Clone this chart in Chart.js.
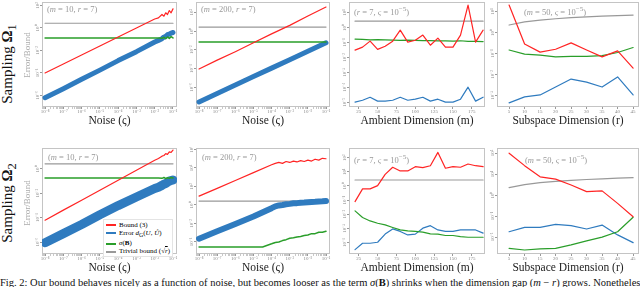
<!DOCTYPE html>
<html>
<head>
<meta charset="utf-8">
<script src="https://cdn.jsdelivr.net/npm/chart.js@4.4.1/dist/chart.umd.min.js"></script>
<style>
  body { margin: 0; background: #fff; }
  #fig { position: relative; width: 640px; height: 287px; overflow: hidden; font-family: 'Liberation Serif', 'Times New Roman', serif; }
  canvas { position: absolute; }
  .rowlab { position: absolute; font-size: 15px; color: #111; white-space: nowrap; transform: translate(-50%, -50%) rotate(-90deg); }
  .ylab { position: absolute; font-size: 9px; color: #aaa; white-space: nowrap; transform: translate(-50%, -50%) rotate(-90deg); }
  .note { position: absolute; font-size: 8.5px; color: #999; white-space: nowrap; line-height: 10px; }
  #legend { position: absolute; left: 103px; top: 219px; font-size: 7px; line-height: 8px; background: #fff; border: 1px solid #e4e4e4; padding: 1px 2px; white-space: nowrap; }
  #legend .sw { display: inline-block; width: 10px; border-top: 2px solid; vertical-align: middle; margin-right: 3px; }
  #caption { position: absolute; left: 0; top: 277px; font-size: 10.5px; line-height: 12px; white-space: nowrap; color: #111; }
</style>
</head>
<body>
<div id="fig">
  <canvas id="p1"></canvas><canvas id="p2"></canvas><canvas id="p3"></canvas><canvas id="p4"></canvas>
  <canvas id="p5"></canvas><canvas id="p6"></canvas><canvas id="p7"></canvas><canvas id="p8"></canvas>

  <div class="rowlab" style="left:9px;top:64px">Sampling <b>Ω</b><sub>1</sub></div>
  <div class="rowlab" style="left:9px;top:203px">Sampling <b>Ω</b><sub>2</sub></div>
  <div class="ylab" style="left:27px;top:55px">Error/Bound</div>
  <div class="ylab" style="left:27px;top:203px">Error/Bound</div>

  <div class="note" style="left:47px;top:4px">(<i>m</i> = 10, <i>r</i> = 7)</div>
  <div class="note" style="left:201px;top:4px">(<i>m</i> = 200, <i>r</i> = 7)</div>
  <div class="note" style="left:354px;top:4px">(<i>r</i> = 7, <i>ς</i> = 10<sup>−5</sup>)</div>
  <div class="note" style="left:524px;top:4px">(<i>m</i> = 50, <i>ς</i> = 10<sup>−5</sup>)</div>
  <div class="note" style="left:48px;top:152px">(<i>m</i> = 10, <i>r</i> = 7)</div>
  <div class="note" style="left:202px;top:152px">(<i>m</i> = 200, <i>r</i> = 7)</div>
  <div class="note" style="left:354px;top:152px">(<i>r</i> = 7, <i>ς</i> = 10<sup>−5</sup>)</div>
  <div class="note" style="left:525px;top:152px">(<i>m</i> = 50, <i>ς</i> = 10<sup>−5</sup>)</div>

  <div id="legend"></div>
  <div id="caption">Fig. 2: Our bound behaves nicely as a function of noise, but becomes looser as the term <i>σ</i>(<b>B</b>) shrinks when the dimension gap (<i>m</i> − <i>r</i>) grows. Nonetheless, it remains</div>
</div>
<script>
// tick labels
const noiseTicks = [1e-8, 1e-7, 1e-6, 1e-5, 1e-4, 1e-3, 1e-2, 1e-1];
const mTicks = [25, 50, 75, 100, 125, 150, 175];
const rTicks = [5, 10, 15, 20, 25, 30, 35, 40, 45];

// noise sweeps (x = noise)
const noiseA = [1e-8, 1e-7, 1e-6, 1e-5, 1e-4, 1e-3, 1e-2, 1.6e-2, 2.5e-2, 3.2e-2, 4.0e-2, 5.0e-2, 6.3e-2, 7.9e-2, 1e-1];
const noiseDec = [1e-8, 1e-7, 1e-6, 1e-5, 1e-4, 1e-3, 1e-2, 1e-1];
const noiseEnds = [1e-8, 1e-1];
const noiseB = [1e-8, 1e-7, 1e-6, 1e-5, 1e-4, 1.6e-4, 2.5e-4, 4.0e-4, 6.3e-4, 1e-3, 1.6e-3, 2.5e-3, 4.0e-3, 6.3e-3, 1e-2, 1.6e-2, 2.5e-2, 4.0e-2, 6.3e-2, 1e-1];
const noiseBsig = [1e-8, 3.2e-5, 1e-4, 1.6e-4, 2.5e-4, 4.0e-4, 6.3e-4, 1e-3, 1.6e-3, 2.5e-3, 4.0e-3, 6.3e-3, 1e-2, 1.6e-2, 2.5e-2, 4.0e-2, 6.3e-2, 1e-1];
const trivial7 = [2.65, 2.65];

// Sampling Omega 1, m = 10
const boundO1m10 = [1.0e-4, 6.3e-4, 4.0e-3, 2.5e-2, 0.16, 1.0, 6.3, 7.9, 15.8, 11.2, 22.4, 15.8, 35.5, 22.4, 50];
const errO1m10 = [6.3e-7, 4.0e-6, 2.8e-5, 1.8e-4, 1.26e-3, 7.9e-3, 5.6e-2, 7.9e-2, 0.112, 0.158, 0.178, 0.251, 0.282, 0.355, 0.398];
const sigO1m10 = [0.13, 0.13, 0.13, 0.13, 0.13, 0.13, 0.13, 0.13, 0.12, 0.15, 0.11, 0.16, 0.12, 0.17, 0.13];
// Sampling Omega 1, m = 200
const boundO1m200 = [8.9e-5, 7.9e-4, 6.3e-3, 5.6e-2, 0.50, 3.98, 39.8, 355];
const errO1m200 = [2.8e-8, 2.24e-7, 1.78e-6, 1.41e-5, 1.12e-4, 8.9e-4, 7.1e-3, 5.6e-2];
const sigO1m200 = [0.068, 0.068];
// Sampling Omega 2, m = 10
const boundO2m10 = [6.3e-5, 4.2e-4, 2.75e-3, 1.8e-2, 0.12, 0.79, 5.2, 7.1, 11.2, 12.6, 17.8, 15.8, 25.1, 22.4, 35.5];
const errO2m10 = [8.9e-7, 5.0e-6, 2.8e-5, 1.78e-4, 1.0e-3, 5.0e-3, 2.5e-2, 3.2e-2, 4.5e-2, 5.6e-2, 6.3e-2, 7.9e-2, 0.1, 0.112, 0.126];
const sigO2m10 = [0.18, 0.18, 0.18, 0.18, 0.18, 0.18, 0.18, 0.18, 0.17, 0.2, 0.16, 0.19, 0.17, 0.2, 0.18];
// Sampling Omega 2, m = 200
const boundO2m200 = [9.1, 63, 447, 3.16e3, 2.24e4, 3.16e4, 3.98e4, 3.16e4, 5.0e4, 3.98e4, 5.6e4, 4.5e4, 6.3e4, 5.0e4, 7.1e4, 5.6e4, 8.9e4, 7.1e4, 1.12e5, 1.0e5];
const errO2m200 = [2.24e-4, 1.41e-3, 8.9e-3, 5.6e-2, 0.45, 0.71, 0.89, 1.0, 1.2, 1.32, 1.51, 1.58, 1.78, 1.86, 2.0, 2.14, 2.24, 2.4, 2.51, 2.69];
const sigO2m200 = [2.9e-5, 2.9e-5, 6.3e-5, 8.9e-5, 1.0e-4, 1.41e-4, 1.78e-4, 2.5e-4, 2.8e-4, 3.5e-4, 4.0e-4, 5.0e-4, 5.6e-4, 7.9e-4, 7.9e-4, 1.12e-3, 1.12e-3, 1.41e-3];

// ambient dimension sweeps (r = 7, noise 1e-5)
const mVals = [20, 30, 40, 50, 60, 70, 80, 90, 100, 110, 120, 130, 140, 150, 160, 170, 180, 190];
const trivialM = [2.65, 2.65];
const mEnds = [20, 190];
const boundO1m = [0.031, 0.049, 0.123, 0.035, 0.056, 0.123, 0.66, 0.105, 0.141, 0.31, 0.066, 0.195, 0.049, 0.049, 0.31, 30.9, 0.105, 0.66];
const errO1m = [1.05e-5, 1.41e-5, 2.24e-5, 1.23e-5, 1.23e-5, 1.41e-5, 2.24e-5, 1.41e-5, 1.66e-5, 2.24e-5, 1.23e-5, 1.66e-5, 1.05e-5, 1.05e-5, 1.66e-5, 1.05e-4, 1.23e-5, 2.24e-5];
const sigO1m = [0.17, 0.16, 0.15, 0.155, 0.15, 0.145, 0.14, 0.145, 0.14, 0.135, 0.135, 0.13, 0.13, 0.125, 0.13, 0.12, 0.12, 0.115];
const boundO2m = [0.079, 0.62, 0.62, 1.05, 6.6, 20.9, 11.5, 11.5, 22.9, 19.5, 26.9, 234, 17.8, 22.9, 20.9, 35.5, 26.9, 22.9];
const errO2m = [3.2e-5, 9.1e-5, 9.1e-5, 1.07e-4, 4.0e-4, 9.3e-4, 6.2e-4, 3.5e-4, 4.0e-4, 1.05e-3, 1.58e-3, 7.9e-4, 6.2e-4, 6.2e-4, 7.9e-4, 7.9e-4, 7.9e-4, 4.7e-4];
const sigO2m = [0.0174, 5.9e-3, 3.4e-3, 2.34e-3, 1.78e-3, 1.17e-3, 7.9e-4, 6.8e-4, 6.2e-4, 5.5e-4, 4.2e-4, 4.0e-4, 3.2e-4, 3.2e-4, 2.7e-4, 2.4e-4, 2.4e-4, 2.4e-4];

// subspace dimension sweeps (m = 50, noise 1e-5)
const rVals = [5, 10, 15, 20, 25, 30, 35, 40, 45];
const trivialR = [2.24, 3.16, 3.87, 4.47, 5.0, 5.48, 5.92, 6.32, 6.71];
const boundO1r = [20, 0.28, 0.115, 0.158, 0.316, 0.145, 0.068, 0.132, 0.02];
const errO1r = [4.4e-4, 8.5e-4, 1.05e-3, 2.5e-3, 6.0e-3, 4.3e-3, 2.5e-3, 7.6e-3, 1.05e-3];
const sigO1r = [0.145, 0.093, 0.083, 0.068, 0.072, 0.072, 0.079, 0.11, 0.19];
const boundO2r = [98, 25.1, 7.4, 5.75, 3.0, 1.45, 1.58, 0.40, 0.093];
const errO2r = [1.78e-2, 2.9e-2, 2.9e-2, 4.0e-2, 3.5e-2, 2.4e-2, 3.7e-2, 1.26e-2, 5.4e-3];
const sigO2r = [2.9e-3, 2.4e-3, 2.7e-3, 2.9e-3, 4.2e-3, 6.5e-3, 9.8e-3, 1.78e-2, 8.7e-2];

const FONT = "'Liberation Serif', 'Times New Roman', serif";
const RED = '#ff2424', BLUE = '#2f7bbf', GREEN = '#2a9e2a', GRAY = '#999999';
const YW = 12, XH = 22;

const legendItems = [
  ['Bound (3)', RED],
  ['Error <i>d</i><sub>G</sub>(<i>U</i>, <i>Û</i>)', BLUE],
  ['<i>σ</i>(<b>B</b>)', GREEN],
  ['Trivial bound (√<span style="text-decoration:overline"><i>r</i></span>)', GRAY]
];
document.getElementById('legend').innerHTML = legendItems
  .map(([t, c]) => '<div><span class="sw" style="border-color:' + c + '"></span>' + t + '</div>').join('');

const supMap = { '-': '⁻', '0': '⁰', '1': '¹', '2': '²', '3': '³', '4': '⁴', '5': '⁵', '6': '⁶', '7': '⁷', '8': '⁸', '9': '⁹' };
function powLabel(v) {
  const e = Math.log10(v);
  if (Math.abs(e - Math.round(e)) > 1e-6) return '';
  return '10' + String(Math.round(e)).split('').map(c => supMap[c]).join('');
}

// minor ticks between the decades of the noise axis
const noiseMinor = [];
[-9, -8, -7, -6, -5, -4, -3, -2, -1].forEach(e => {
  [2, 3, 4, 5, 6, 7, 8, 9].forEach(k => noiseMinor.push(k * Math.pow(10, e)));
});

const noiseAxis = { type: 'logarithmic', min: 6.8e-9, max: 0.166, ticks: noiseTicks, minor: noiseMinor, title: 'Noise (ς)' };
const mAxis = { type: 'linear', min: 12, max: 192.5, ticks: mTicks, minor: [], title: 'Ambient Dimension (m)' };
const rAxis = { type: 'linear', min: 1.1, max: 46.9, ticks: rTicks, minor: [], title: 'Subspace Dimension (r)' };

const frame = {
  id: 'frame',
  beforeDatasetsDraw(chart) {
    const a = chart.chartArea, ctx = chart.ctx;
    ctx.save();
    ctx.strokeStyle = '#c4c4c4';
    ctx.lineWidth = 1;
    ctx.strokeRect(a.left + 0.5, a.top + 0.5, a.width - 1, a.height - 1);
    ctx.restore();
  }
};

function line(xs, ys, color, width, order) {
  return {
    data: xs.map((x, i) => ({ x: x, y: ys[i] })),
    showLine: true, borderColor: color, backgroundColor: color,
    borderWidth: width, pointRadius: 0, order: order,
    borderJoinStyle: 'round', borderCapStyle: 'round'
  };
}

function panel(id, l, w, t, h, xa, ya, datasets) {
  const cv = document.getElementById(id);
  cv.width = YW + w + 1;
  cv.height = 1 + h + XH;
  cv.style.left = (l - YW) + 'px';
  cv.style.top = (t - 1) + 'px';
  const isLog = xa.type === 'logarithmic';
  new Chart(cv, {
    type: 'scatter',
    data: { datasets: datasets },
    options: {
      responsive: false,
      animation: false,
      events: [],
      layout: { padding: { top: 1, right: 1, left: 0, bottom: 0 } },
      plugins: { legend: { display: false }, tooltip: { enabled: false } },
      scales: {
        x: {
          type: xa.type, min: xa.min, max: xa.max,
          afterBuildTicks: s => { s.ticks = xa.ticks.concat(xa.minor.filter(v => v > xa.min && v < xa.max)).sort((a, b) => a - b).map(v => ({ value: v })); },
          afterFit: s => { s.height = XH; s.paddingLeft = 0; s.paddingRight = 0; },
          grid: { drawOnChartArea: false, tickLength: 2, tickColor: c => (xa.ticks.includes(c.tick.value) ? '#999' : '#c8c8c8') },
          border: { display: false },
          ticks: {
            font: { size: 5, family: FONT }, color: '#888', padding: 0, maxRotation: 0, autoSkip: false,
            callback: v => (xa.ticks.includes(v) ? (isLog ? powLabel(v) : String(v)) : '')
          },
          title: { display: true, text: xa.title, font: { size: 11.5, family: FONT }, color: '#222', padding: { top: 0, bottom: 1 } }
        },
        y: {
          type: 'logarithmic', min: ya.min, max: ya.max,
          afterBuildTicks: s => { s.ticks = ya.ticks.map(v => ({ value: v })); },
          afterFit: s => { s.width = YW; s.paddingTop = 0; s.paddingBottom = 0; },
          grid: { drawOnChartArea: false, tickLength: 2, tickColor: '#999' },
          border: { display: false },
          ticks: { font: { size: 5, family: FONT }, color: '#888', minRotation: 90, maxRotation: 90, crossAlign: 'center', padding: -2, autoSkip: false, callback: v => powLabel(v) }
        }
      }
    },
    plugins: [frame]
  });
}

const TOP = 2, TOP_H = 105, BOT = 148, BOT_H = 106;
const C1 = [42, 135], C2 = [196, 134], C3 = [349, 136], C4 = [497, 142];

panel('p1', C1[0], C1[1], TOP, TOP_H, noiseAxis, { min: 9.5e-8, max: 204, ticks: [1e-6, 1e-4, 1e-2, 1, 1e2] }, [
  line(noiseA, boundO1m10, RED, 1.2, 0),
  line(noiseA, sigO1m10, GREEN, 1.5, 1),
  line(noiseA, errO1m10, BLUE, 5, 2),
  line(noiseEnds, trivial7, GRAY, 1.2, 3)
]);
panel('p2', C2[0], C2[1], TOP, TOP_H, noiseAxis, { min: 8.1e-9, max: 1230, ticks: [1e-6, 1e-4, 1e-2, 1, 1e2] }, [
  line(noiseDec, boundO1m200, RED, 1.2, 0),
  line(noiseEnds, sigO1m200, GREEN, 1.5, 1),
  line(noiseDec, errO1m200, BLUE, 5, 2),
  line(noiseEnds, trivial7, GRAY, 1.2, 3)
]);
panel('p3', C3[0], C3[1], TOP, TOP_H, mAxis, { min: 5.0e-6, max: 50, ticks: [1e-5, 1e-4, 1e-3, 1e-2, 1e-1, 1, 10] }, [
  line(mVals, boundO1m, RED, 1.2, 0),
  line(mVals, sigO1m, GREEN, 1.2, 1),
  line(mVals, errO1m, BLUE, 1.2, 2),
  line(mEnds, trivialM, GRAY, 1.2, 3)
]);
panel('p4', C4[0], C4[1], TOP, TOP_H, rAxis, { min: 2.8e-4, max: 28, ticks: [1e-3, 1e-2, 1e-1, 1, 10] }, [
  line(rVals, boundO1r, RED, 1.2, 0),
  line(rVals, sigO1r, GREEN, 1.2, 1),
  line(rVals, errO1r, BLUE, 1.2, 2),
  line(rVals, trivialR, GRAY, 1.2, 3)
]);
panel('p5', C1[0], C1[1], BOT, BOT_H, noiseAxis, { min: 1.07e-7, max: 52, ticks: [1e-6, 1e-4, 1e-2, 1] }, [
  line(noiseA, boundO2m10, RED, 1.2, 0),
  line(noiseA, sigO2m10, GREEN, 1.5, 1),
  line(noiseA, errO2m10, BLUE, 9, 2),
  line(noiseEnds, trivial7, GRAY, 1.2, 3)
]);
panel('p6', C2[0], C2[1], BOT, BOT_H, noiseAxis, { min: 5.0e-6, max: 1.45e6, ticks: [1e-4, 1e-2, 1, 1e2, 1e4, 1e6] }, [
  line(noiseB, boundO2m200, RED, 1.2, 0),
  line(noiseBsig, sigO2m200, GREEN, 1.5, 1),
  line(noiseB, errO2m200, BLUE, 6, 2),
  line(noiseEnds, trivial7, GRAY, 1.2, 3)
]);
panel('p7', C3[0], C3[1], BOT, BOT_H, mAxis, { min: 1.58e-5, max: 479, ticks: [1e-4, 1e-3, 1e-2, 1e-1, 1, 10, 100] }, [
  line(mVals, boundO2m, RED, 1.2, 0),
  line(mVals, sigO2m, GREEN, 1.2, 1),
  line(mVals, errO2m, BLUE, 1.2, 2),
  line(mEnds, trivialM, GRAY, 1.2, 3)
]);
panel('p8', C4[0], C4[1], BOT, BOT_H, rAxis, { min: 1.55e-3, max: 174, ticks: [1e-2, 1e-1, 1, 10, 100] }, [
  line(rVals, boundO2r, RED, 1.2, 0),
  line(rVals, sigO2r, GREEN, 1.2, 1),
  line(rVals, errO2r, BLUE, 1.2, 2),
  line(rVals, trivialR, GRAY, 1.2, 3)
]);
</script>
</body>
</html>
